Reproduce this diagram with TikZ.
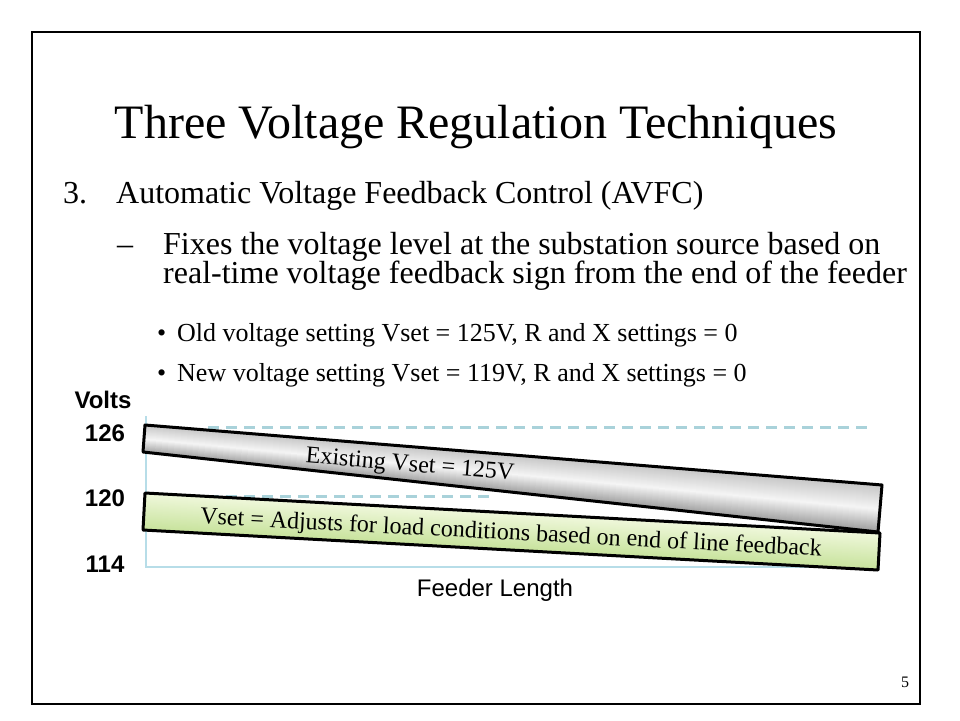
\documentclass[tikz,border=0pt]{standalone}
\usepackage{fontspec}
\setmainfont{Liberation Serif}
\setsansfont{Liberation Sans}
\usetikzlibrary{positioning,calc}
\definecolor{assecol}{HTML}{B7DDE8}
\definecolor{grigliacol}{HTML}{A9D2DA}
\definecolor{verdeA}{HTML}{F0F8DC}
\definecolor{verdeB}{HTML}{C6E29A}
\newcommand{\fs}[1]{\fontsize{#1}{#1}\selectfont}

\begin{document}
\begin{tikzpicture}[x=1pt,y=-1pt]
\tikzstyle{testo} = [inner sep=0pt, anchor=base west]
\tikzstyle{etichetta} = [inner sep=0pt, anchor=base, font=\sffamily\bfseries\fs{24}]
\tikzstyle{griglia} = [grigliacol, line width=3pt, dash pattern=on 11pt off 7pt]
\tikzstyle{fascia} = [line width=3pt, line join=round]
\useasboundingbox (0,0) rectangle (960,720);
\draw[line width=1.5pt] (32,32) rectangle (920,704);
% titolo e testo
\node[inner sep=0pt, anchor=base] (title) at (476,138) {\fs{48}Three Voltage Regulation Techniques};
\node[testo] (num) at (63,203) {\fs{32}3.};
\node[testo] (item) at (116,203) {\fs{32}Automatic Voltage Feedback Control (AVFC)};
\node[testo] (dash) at (117,254) {\fs{32}--};
\node[testo] (sub1) at (163,254) {\fs{32}Fixes the voltage level at the substation source based on};
\node[testo] (sub2) at (163,283) {\fs{32}real-time voltage feedback sign from the end of the feeder};
\node[testo] (b1) at (157,341) {\fs{26}\textbullet};
\node[testo] (old) at (177,341) {\fs{26}Old voltage setting Vset = 125V, R and X settings = 0};
\node[testo] (b2) at (157,381) {\fs{26}\textbullet};
\node[testo] (new) at (177,381) {\fs{26}New voltage setting Vset = 119V, R and X settings = 0};
% grafico
\node[etichetta] (volts) at (103,408) {Volts};
\node[etichetta] (v126) at (105,441) {126};
\node[etichetta] (v120) at (105,506) {120};
\node[etichetta] (v114) at (105,572) {114};
\node[etichetta, font=\sffamily\fs{24}] (feeder) at (495,596) {Feeder Length};
\coordinate (o) at (146,567);
\draw[assecol, line width=2.5pt] (146,416) -- (o) -- (880,567);
\draw[griglia] (208,427) -- (874,427);
\draw[griglia] (208,496) -- (494,496);
\coordinate (g1) at (145,493);
\coordinate (g2) at (880,533);
\coordinate (g3) at (878,570);
\coordinate (g4) at (143,530);
\coordinate (e1) at (145,425);
\coordinate (e2) at (882,485);
\coordinate (e3) at (878,532);
\coordinate (e4) at (143,452);
\begin{scope}
\clip (g1) -- (g2) -- (g3) -- (g4) -- cycle;
\foreach \i in {0,...,119}
  \shade[top color=verdeA, bottom color=verdeB]
    ($(g1)!\i/120!(g2)$) -- ($(g1)!\i/120+0.013!(g2)$) -- ($(g4)!\i/120+0.013!(g3)$) -- ($(g4)!\i/120!(g3)$) -- cycle;
\end{scope}
\draw[fascia] (g1) -- (g2) -- (g3) -- (g4) -- cycle;
\begin{scope}
\clip (e1) -- (e2) -- (e3) -- (e4) -- cycle;
\foreach \i in {0,...,119}
  \shade[top color=gray!45, bottom color=gray!80, middle color=gray!8]
    ($(e1)!\i/120!(e2)$) -- ($(e1)!\i/120+0.013!(e2)$) -- ($(e4)!\i/120+0.013!(e3)$) -- ($(e4)!\i/120!(e3)$) -- cycle;
\end{scope}
\draw[fascia] (e1) -- (e2) -- (e3) -- (e4) -- cycle;
\node[inner sep=0pt, rotate=-4.7] (exist) at (410,466) {\fs{24}Existing Vset = 125V};
\node[inner sep=0pt, rotate=-3] (adjust) at (511,534) {\fs{24}Vset = Adjusts for load conditions based on end of line feedback};
\node[inner sep=0pt, anchor=base] (page) at (905,687) {\fs{16}5};
\end{tikzpicture}
\end{document}
